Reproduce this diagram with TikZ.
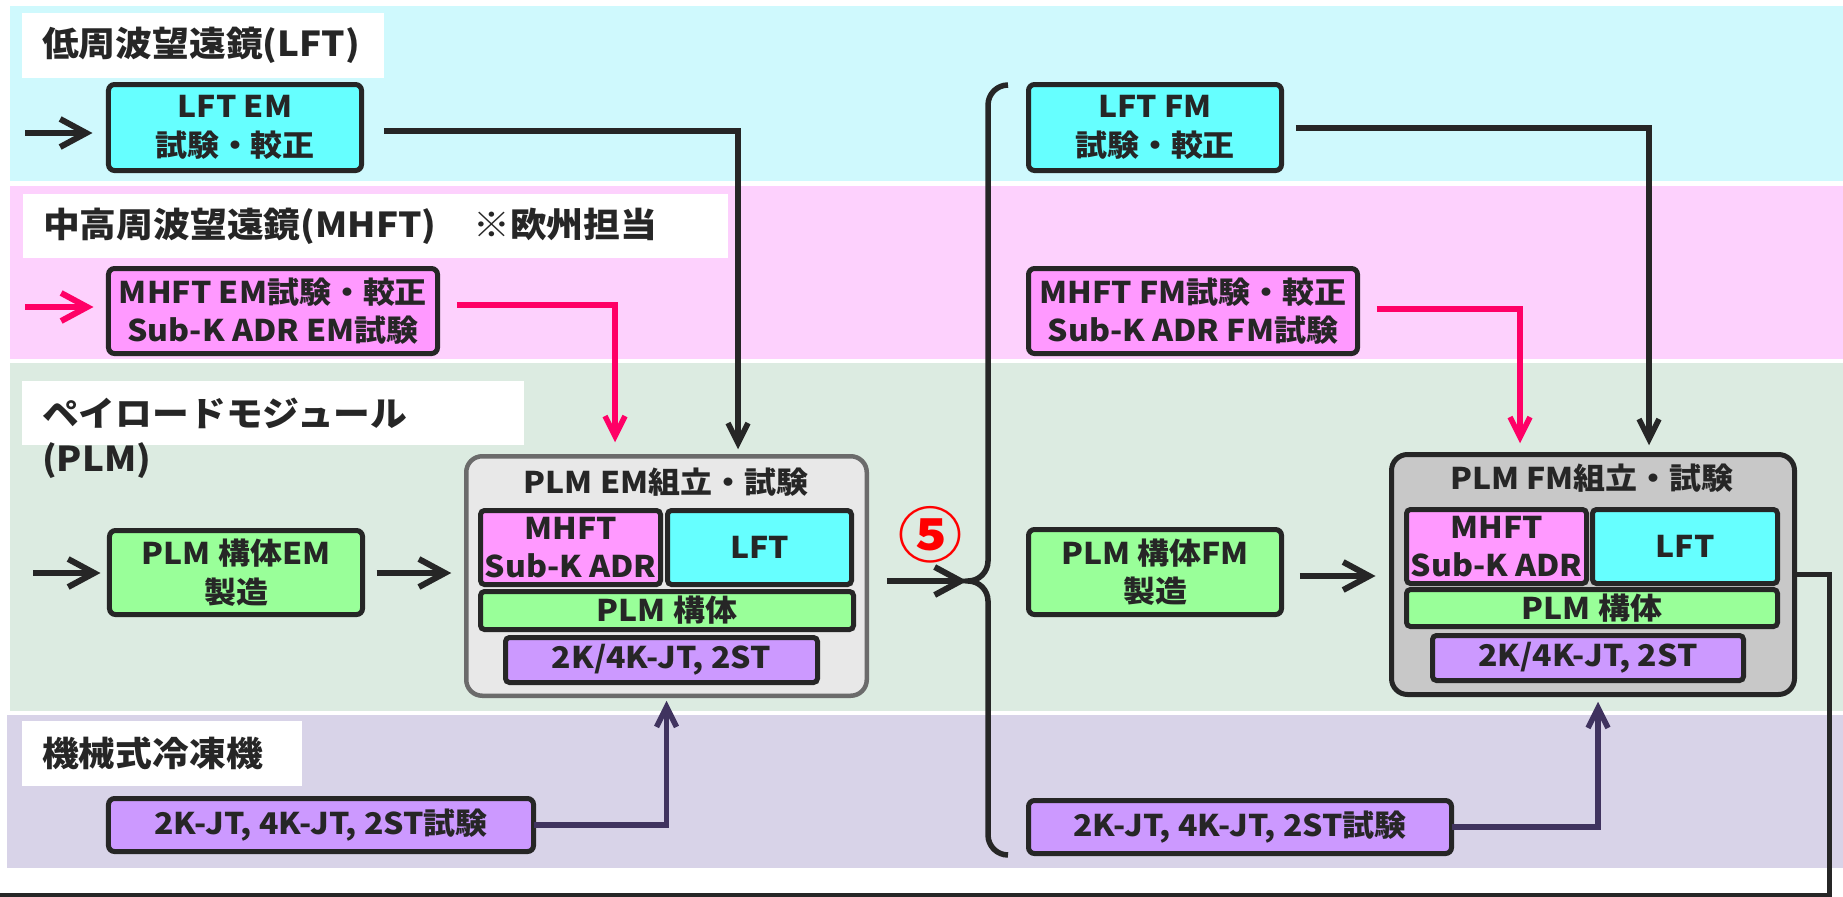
\documentclass[tikz,border=0pt]{standalone}
\usepackage{fontspec}
\setmainfont{Noto Sans CJK JP}[FakeStretch=1.07]
\usetikzlibrary{arrows.meta,calc}

\definecolor{bandC}{HTML}{CFF9FD}
\definecolor{bandP}{HTML}{FDD1FD}
\definecolor{bandG}{HTML}{DCEBE1}
\definecolor{bandV}{HTML}{D8D3E8}
\definecolor{boxC}{HTML}{66FFFF}
\definecolor{boxP}{HTML}{FF99FF}
\definecolor{boxG}{HTML}{99FF99}
\definecolor{boxV}{HTML}{CC99FF}
\definecolor{dk}{HTML}{262626}
\definecolor{pk}{HTML}{FF0066}
\definecolor{pv}{HTML}{40335F}
\definecolor{emfill}{HTML}{E8E8E8}
\definecolor{embord}{HTML}{6B6B6B}
\definecolor{fmfill}{HTML}{C8C8C8}

\newcommand\myboxfont{\fontsize{30}{38.5}\selectfont\bfseries}
\newcommand\myttlfont{\fontsize{34.5}{45}\selectfont\bfseries}

\tikzset{
  box/.style={draw=dk, line width=5bp, rounded corners=6bp, inner sep=0pt, outer sep=0pt,
    align=center, text=dk, font=\myboxfont},
  inbox/.style={box, rounded corners=4bp},
  outerbox/.style={rounded corners=16bp, inner sep=0pt, outer sep=0pt},
  ttl/.style={fill=white, inner xsep=20bp, inner ysep=0pt, align=left, text=dk, font=\myttlfont, anchor=north west},
  conn/.style={draw=dk, line width=5.5bp, -{Straight Barb[length=20bp,width=20bp]}},
  pconn/.style={conn, draw=pv},
  kconn/.style={conn, draw=pk},
  inarr/.style={draw=dk, line width=6bp, -{Straight Barb[length=26bp,width=28bp]}},
}

\begin{document}
\begin{tikzpicture}[x=1bp,y=-1bp]
\useasboundingbox (0,0) rectangle (1843,897);
\fill[white] (0,0) rectangle (1843,897);

% bands
\fill[bandC] (10,6) rectangle (1843,181);
\fill[bandP] (10,186) rectangle (1843,359);
\fill[bandG] (10,363) rectangle (1843,711);
\fill[bandV] (7,715) rectangle (1843,868);

% section titles
\node[ttl, minimum width=362bp, minimum height=65bp, text width=322bp] (t1) at (22,13) {低周波望遠鏡(LFT)};
\node[ttl, minimum width=705bp, minimum height=64bp, text width=665bp] (t2) at (23,194) {中高周波望遠鏡(MHFT)　※欧州担当};
\fill[white] (22,381) rectangle (524,445);
\node[inner sep=0pt, align=left, text=dk, font=\myttlfont, anchor=west] (t3) at (42,438) {ペイロードモジュール\\(PLM)};
\node[ttl, minimum width=280bp, minimum height=65bp, text width=240bp] (t4) at (22,721) {機械式冷凍機};

% EM column
\node[box, fill=boxC, minimum width=253bp, minimum height=86bp] (lftem) at (235,127.5) {LFT EM\\試験・較正};
\node[box, fill=boxP, minimum width=329bp, minimum height=85bp] (mhftem) at (273,311) {MHFT EM試験・較正\\Sub-K ADR EM試験};
\node[box, fill=boxG, minimum width=253bp, minimum height=84bp] (plmstem) at (236,572.5) {PLM 構体EM\\製造};
\node[box, fill=boxV, minimum width=425bp, minimum height=53bp] (jtem) at (321,825) {2K-JT, 4K-JT, 2ST試験};

\node[outerbox, draw=embord, line width=4.5bp, fill=emfill, minimum width=400.5bp, minimum height=239.5bp] (emouter) at (666.5,576) {};
\node[text=dk, font=\myboxfont, inner sep=0pt] (emtitle) at (666,482) {PLM EM組立・試験};
\node[inbox, fill=boxP, minimum width=180bp, minimum height=74bp] (emmhft) at (570.5,547.5) {MHFT\\Sub-K ADR};
\node[inbox, fill=boxC, minimum width=184bp, minimum height=74bp] (emlft) at (759.5,547.5) {LFT};
\node[inbox, fill=boxG, minimum width=373bp, minimum height=38bp] (emplm) at (667,610.5) {PLM 構体};
\node[inbox, fill=boxV, minimum width=312bp, minimum height=45bp] (emjt) at (661.5,660) {2K/4K-JT, 2ST};

% FM column
\node[box, fill=boxC, minimum width=253bp, minimum height=86bp] (lftfm) at (1155,127.5) {LFT FM\\試験・較正};
\node[box, fill=boxP, minimum width=329bp, minimum height=85bp] (mhftfm) at (1193,311) {MHFT FM試験・較正\\Sub-K ADR FM試験};
\node[box, fill=boxG, minimum width=253bp, minimum height=85bp] (plmstfm) at (1155,572) {PLM 構体FM\\製造};
\node[box, fill=boxV, minimum width=423bp, minimum height=53bp] (jtfm) at (1240,827) {2K-JT, 4K-JT, 2ST試験};

\node[outerbox, draw=dk, line width=5bp, fill=fmfill, minimum width=403bp, minimum height=240bp] (fmouter) at (1593,574.5) {};
\node[text=dk, font=\myboxfont, inner sep=0pt] (fmtitle) at (1592,478) {PLM FM組立・試験};
\node[inbox, fill=boxP, minimum width=180bp, minimum height=74bp] (fmmhft) at (1496.5,546.5) {MHFT\\Sub-K ADR};
\node[inbox, fill=boxC, minimum width=185bp, minimum height=74bp] (fmlft) at (1685,546.5) {LFT};
\node[inbox, fill=boxG, minimum width=371bp, minimum height=37bp] (fmplm) at (1592,608) {PLM 構体};
\node[inbox, fill=boxV, minimum width=311bp, minimum height=45bp] (fmjt) at (1588,658) {2K/4K-JT, 2ST};

% circled 5
\node[text=red, font=\fontsize{60}{60}\selectfont\bfseries, inner sep=0pt] (five) at (930,535) {⑤};

% brace
\draw[dk, line width=5.5bp] (1008,85) .. controls (997,85) and (988,94) .. (988,105)
  -- (988,561) .. controls (988,572) and (979,581) .. (968,581)
  .. controls (979,581) and (988,590) .. (988,601)
  -- (988,835) .. controls (988,846) and (997,855) .. (1008,855);
\coordinate (bracetip) at (967,581);

% input arrows
\coordinate (inA) at (25,133);
\coordinate (inB) at (25,307);
\coordinate (inC) at (33,573);
\draw[inarr] (inA) -- ($(inA -| lftem.west)+(-16,0)$);
\draw[inarr, draw=pk] (inB) -- ($(inB -| mhftem.west)+(-15,0)$);
\draw[inarr] (inC) -- ($(inC -| plmstem.west)+(-9,0)$);
\draw[inarr] ($(plmstem.east)+(14,0.5)$) -- ($(plmstem.east -| emouter.west)+(-15,0.5)$);
\draw[inarr] ($(emouter.east)+(20,5)$) -- (bracetip);
\draw[inarr] ($(plmstfm.east)+(18.25,4)$) -- ($(plmstfm.east -| fmouter.west)+(-16,4)$);

% EM connectors
\draw[conn] ($(lftem.east)+(22.25,3.5)$) -| ($(emouter.north)+(71.5,-7)$);
\draw[kconn] ($(mhftem.east)+(19.25,-6)$) -| ($(emouter.north)+(-51.5,-14)$);
\draw[pconn] (jtem.east) -| ($(emouter.south)+(0,5)$);

% FM connectors
\draw[conn] ($(lftfm.east)+(14.25,0.5)$) -| ($(fmouter.north)+(56,-9.25)$);
\draw[kconn] ($(mhftfm.east)+(19.25,-2)$) -| ($(fmouter.north)+(-73,-11.25)$);
\draw[pconn] (jtfm.east) -| ($(fmouter.south)+(5,7.25)$);

% output line
\coordinate (outCorner) at (1829,895.5);
\coordinate (outEnd) at (0,895.5);
\draw[dk, line width=5bp] (fmouter.east) -| (outCorner) -- (outEnd);
\end{tikzpicture}
\end{document}
